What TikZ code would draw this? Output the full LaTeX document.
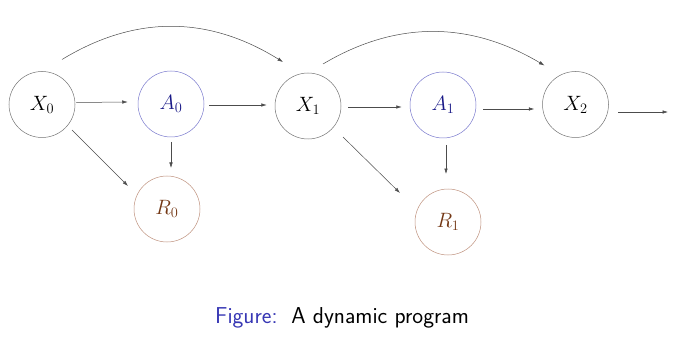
\documentclass[tikz,border=0pt]{standalone}
\usetikzlibrary{arrows.meta,calc}
\definecolor{capblue}{RGB}{55,55,180}
\definecolor{acirc}{RGB}{120,120,205}
\definecolor{atext}{RGB}{25,25,135}
\definecolor{rcirc}{RGB}{190,145,125}
\definecolor{rtext}{RGB}{115,55,20}
\begin{document}
\begin{tikzpicture}[x=1pt,y=-1pt,
  st/.style={circle,draw=black!55,line width=0.5pt,minimum size=66pt,inner sep=0pt,font=\fontsize{22}{26}\selectfont},
  act/.style={st,draw=acirc,text=atext},
  rew/.style={st,draw=rcirc,text=rtext},
  arr/.style={-{Latex[length=5.5pt,width=3.5pt]},line width=0.5pt,draw=black!70}]
\useasboundingbox (0,0) rectangle (680,350);
\node[st]  (X0) at (42,104.5) {$X_0$};
\node[act] (A0) at (171,104) {$A_0$};
\node[st]  (X1) at (308,106) {$X_1$};
\node[rew] (R0) at (167,209) {$R_0$};
\node[act] (A1) at (443,105) {$A_1$};
\node[st]  (X2) at (575.5,104.5) {$X_2$};
\node[rew] (R1) at (448,222) {$R_1$};
\coordinate (out) at (668,112);
% horizontal arrows
\draw[arr] ($(X0.east)+(1,-2)$) -- ($(A0.west)+(-10,-2)$);
\draw[arr] ($(A0.east)+(5,1)$) -- ($(X1.west)+(-8,-1)$);
\draw[arr] ($(X1.east)+(7,1)$) -- ($(A1.west)+(-8,2)$);
\draw[arr] ($(A1.east)+(7,4)$) -- ($(X2.west)+(-8,4.5)$);
\draw[arr] ($(X2.east)+(9.5,7.5)$) -- (out);
% downward arrows
\draw[arr] ($(X0.center)+(30,25.5)$) -- ($(R0.center)+(-39,-23)$);
\draw[arr] ($(A0.center)+(0,38)$) -- ($(R0.center)+(4,-41)$);
\draw[arr] ($(X1.center)+(35,31)$) -- ($(R1.center)+(-48,-29)$);
\draw[arr] ($(A1.center)+(3,40)$) -- ($(R1.center)+(-2,-48)$);
% curved arrows
\draw[arr] ($(X0.center)+(20,-45)$) .. controls +(74,-45) and +(-74,-46) .. ($(X1.center)+(-25,-44)$);
\draw[arr] ($(X1.center)+(15,-42)$) .. controls +(74,-44) and +(-74,-44) .. ($(X2.center)+(-31,-39)$);
% caption
\node[anchor=base west,inner sep=0pt,font=\sffamily\fontsize{23}{27}\selectfont] (cap) at (215,323) {\textcolor{capblue}{Figure:}\hspace{0.6em}A dynamic program};
\end{tikzpicture}
\end{document}
